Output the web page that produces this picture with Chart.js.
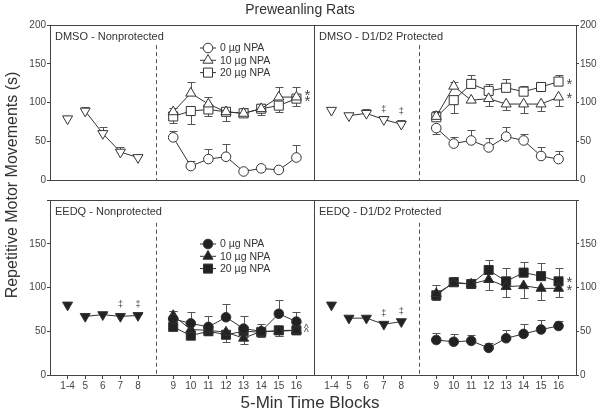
<!DOCTYPE html>
<html>
<head>
<meta charset="utf-8">
<title>Preweanling Rats</title>
<script src="https://cdn.jsdelivr.net/npm/chart.js@4.4.1/dist/chart.umd.min.js"></script>
<style>
  body { margin: 0; background: #fff; }
  #wrap { position: relative; width: 600px; height: 416px; overflow: hidden;
          font-family: "Liberation Sans", Arial, sans-serif; color: #333; }
  #wrap canvas { position: absolute; left: 0; top: 0; }
  .txt { position: absolute; white-space: nowrap; text-align: center; }
  #ttl { left: 0; top: 0; width: 600px; line-height: 18px; font-size: 14px; }
  #xttl { left: 10px; top: 393px; width: 600px; line-height: 20px; font-size: 17px; }
  #yttl { left: -138px; top: 175px; width: 300px; line-height: 20px; font-size: 16px; transform: rotate(-90deg); }
</style>
</head>
<body>
<div id="wrap">
  <canvas id="c1" width="600" height="416"></canvas>
  <canvas id="c2" width="600" height="416"></canvas>
  <canvas id="c3" width="600" height="416"></canvas>
  <canvas id="c4" width="600" height="416"></canvas>
  <div class="txt" id="ttl">Preweanling Rats</div>
  <div class="txt" id="xttl">5-Min Time Blocks</div>
  <div class="txt" id="yttl">Repetitive Motor Movements (s)</div>
</div>
<script>
// time blocks: 1-4..8 before injection, 9..16 after
var preLabels = ['1-4', '5', '6', '7', '8'];
var postLabels = ['9', '10', '11', '12', '13', '14', '15', '16'];
var doseLabels = ['0 \u00b5g NPA', '10 \u00b5g NPA', '20 \u00b5g NPA'];
var panelTitles = ['DMSO - Nonprotected', 'DMSO - D1/D2 Protected', 'EEDQ - Nonprotected', 'EEDQ - D1/D2 Protected'];

// errors: SEM, sign = side of the bar drawn (+ up, - down)
// DMSO - Nonprotected
var dnPre = [79, 89, 60, 36, 29];
var dnPreErr = [0, 5, 8, 7, 3];
var dn0 = [55, 18, 27, 30, 11, 15, 13, 29];
var dn0Err = [8, 7, 13, 16, 3, 3, 3, 16];
var dn10 = [88, 112, 98, 88, 86, 92, 107, 107];
var dn10Err = [5, 14, 9, 3, 7, 6, 13, 13];
var dn20 = [82, 89, 91, 88, 86, 92, 96, 105];
var dn20Err = [-9, -17, -8, -12, -4, -8, -8, -10];

// DMSO - D1/D2 Protected
var ddPre = [90, 83, 86, 78, 72];
var ddPreErr = [0, 3, 5, 4, 6];
var dd0 = [67, 47, 51, 42, 56, 51, 31, 27];
var dd0Err = [-7, 9, 13, 12, 13, 9, 12, 10];
var dd10 = [82, 121, 103, 105, 98, 98, 98, 107];
var dd10Err = [0, 6, 0, -9, -8, -11, -9, -11];
var dd20 = [81, 103, 124, 115, 119, 114, 120, 127];
var dd20Err = [8, -16, 12, 9, 11, 7, 6, 9];

// EEDQ - Nonprotected
var enPre = [80, 67, 69, 67, 68];
var enPreErr = [0, 2, 2, 2, 2];
var en0 = [64, 59, 55, 66, 53, 50, 70, 61];
var en0Err = [9, 13, 12, 15, 14, 8, 16, 11];
var en10 = [68, 52, 51, 49, 42, 50, 50, 51];
var en10Err = [5, -4, -4, -5, -6, -4, -5, -4];
var en20 = [55, 45, 50, 46, 50, 49, 51, 51];
var en20Err = [-4, -4, -4, -8, -7, -6, -6, -4];

// EEDQ - D1/D2 Protected
var edPre = [80, 65, 65, 58, 61];
var edPreErr = [0, 3, 3, 0, 3];
var ed0 = [40, 38, 39, 31, 42, 47, 52, 56];
var ed0Err = [8, 9, 7, 6, 9, 11, 11, 6];
var ed10 = [93, 105, 104, 109, 101, 102, 99, 99];
var ed10Err = [-7, -3, -4, -12, -12, -14, -13, -10];
var ed20 = [91, 106, 104, 120, 107, 117, 113, 107];
var ed20Err = [12, 6, 6, 11, 15, 12, 15, 15];

Chart.defaults.font.family = '"Liberation Sans", Arial, sans-serif';

// broken axis: empty slot, pre blocks, empty slot, post blocks, empty slot
var axisLabels = [''].concat(preLabels, [''], postLabels, ['']);

function slots(pre, post) {
  var a = pre || preLabels.map(function () { return null; });
  var b = post || postLabels.map(function () { return null; });
  return [null].concat(a, [null], b, [null]);
}

function drawMark(ctx, style, x, y, r, fill) {
  ctx.beginPath();
  if (style === 'circle') {
    ctx.arc(x, y, r, 0, Math.PI * 2);
  } else if (style === 'rect') {
    var h = r * Math.SQRT1_2;
    ctx.rect(x - h, y - h, 2 * h, 2 * h);
  } else {
    ctx.moveTo(x, y - r);
    ctx.lineTo(x + r * 0.866, y + r / 2);
    ctx.lineTo(x - r * 0.866, y + r / 2);
    ctx.closePath();
  }
  ctx.fillStyle = fill;
  ctx.fill();
  ctx.stroke();
}

var deco = {
  id: 'deco',
  beforeDatasetsDraw: function (chart, args, o) {
    var ctx = chart.ctx, a = chart.chartArea, x = chart.scales.x, y = chart.scales.y;
    ctx.save();
    ctx.lineWidth = 1;
    // dashed line between blocks 8 and 9
    var xd = Math.round(x.getPixelForValue(preLabels.length + 1)) + 0.5;
    ctx.strokeStyle = '#555';
    ctx.setLineDash([4, 3]);
    ctx.beginPath();
    ctx.moveTo(xd, y.getPixelForValue(174));
    ctx.lineTo(xd, a.bottom);
    ctx.stroke();
    ctx.setLineDash([]);
    // error bars
    ctx.strokeStyle = '#555';
    chart.data.datasets.forEach(function (ds, i) {
      var meta = chart.getDatasetMeta(i);
      ds.errs.forEach(function (e, j) {
        var v = ds.data[j];
        if (v == null || !e) return;
        var px = Math.round(meta.data[j].x) + 0.5;
        var py = y.getPixelForValue(v);
        var pe = Math.round(y.getPixelForValue(v + e)) + 0.5;
        ctx.beginPath();
        ctx.moveTo(px, py);
        ctx.lineTo(px, pe);
        ctx.moveTo(px - 4, pe);
        ctx.lineTo(px + 4, pe);
        ctx.stroke();
      });
    });
    ctx.restore();
  },
  afterDatasetsDraw: function (chart, args, o) {
    var ctx = chart.ctx, a = chart.chartArea, x = chart.scales.x, y = chart.scales.y;
    ctx.save();
    // frame
    ctx.strokeStyle = '#444';
    ctx.lineWidth = 1;
    ctx.strokeRect(Math.round(a.left) + 0.5, Math.round(a.top) + 0.5, Math.round(a.right - a.left), Math.round(a.bottom - a.top));
    // panel title
    ctx.fillStyle = '#333';
    ctx.font = '11px "Liberation Sans", Arial, sans-serif';
    ctx.textBaseline = 'middle';
    ctx.textAlign = 'left';
    ctx.fillText(o.title, a.left + 5, a.top + 12);
    // legend
    if (o.legendTop != null) {
      for (var k = 0; k < 3; k++) {
        var ds = chart.data.datasets[k + 1];
        var ly = a.top + o.legendTop + k * 12.3;
        var lx = a.left + 158;
        ctx.strokeStyle = '#333';
        ctx.beginPath();
        ctx.moveTo(lx - 8, ly);
        ctx.lineTo(lx + 8, ly);
        ctx.stroke();
        drawMark(ctx, ds.pointStyle, lx, ly, ds.pointRadius, ds.pointBackgroundColor);
        ctx.fillStyle = '#333';
        ctx.font = '10.5px "Liberation Sans", Arial, sans-serif';
        ctx.fillText(doseLabels[k], lx + 12, ly + 0.5);
      }
    }
    // significance marks
    ctx.fillStyle = '#444';
    ctx.textAlign = 'center';
    (o.notes || []).forEach(function (n) {
      var px = x.getPixelForValue(axisLabels.indexOf(n.at));
      var py = y.getPixelForValue(n.v);
      if (n.t === '*') {
        ctx.font = '15px "Liberation Sans", Arial, sans-serif';
        ctx.fillText('*', px + 11, py + 3);
      } else if (n.t === '^') {
        ctx.font = '10px "Liberation Sans", Arial, sans-serif';
        ctx.fillText('^', px + 10, py + 2);
      } else {
        ctx.font = '9px "Liberation Sans", Arial, sans-serif';
        ctx.fillText(n.t, px, py);
      }
    });
    ctx.restore();
  }
};

function series(data, errs, style, r, fill, rot) {
  return {
    data: data, errs: errs,
    borderColor: '#333', borderWidth: 1,
    pointStyle: style, pointRadius: r, pointRotation: rot || 0,
    pointBackgroundColor: fill, pointBorderColor: '#333', pointBorderWidth: 1,
    tension: 0, spanGaps: false
  };
}

function makePanel(p) {
  var fill = p.filled ? '#222' : '#fff';
  var pre = series(slots(p.pre, null), slots(p.preErr, null), 'triangle', 5.8, fill, 180);
  pre.segment = { borderColor: function (c) { return c.p0DataIndex === 1 ? 'rgba(0,0,0,0)' : undefined; } };
  var ds = [
    pre,
    series(slots(null, p.s[0]), slots(null, p.e[0]), 'circle', 4.8, fill),
    series(slots(null, p.s[1]), slots(null, p.e[1]), 'triangle', 5.8, fill),
    series(slots(null, p.s[2]), slots(null, p.e[2]), 'rect', 6.4, fill)
  ];
  var tickFont = { size: 10 };
  new Chart(document.getElementById(p.id), {
    type: 'line',
    data: { labels: axisLabels, datasets: ds },
    options: {
      responsive: false,
      animation: false,
      devicePixelRatio: 1,
      layout: {
        padding: {
          left: p.col === 0 ? 26 : 314,
          right: p.col === 0 ? 286 : 0,
          top: p.row === 0 ? 25 : 200,
          bottom: p.row === 0 ? 216 : 21
        }
      },
      plugins: {
        legend: { display: false },
        tooltip: { enabled: false },
        deco: { title: p.title, legendTop: p.legendTop, notes: p.notes }
      },
      scales: {
        x: {
          display: p.row === 1,
          offset: false,
          border: { display: false },
          grid: {
            drawOnChartArea: false, tickLength: 4,
            tickColor: function (c) { return c.tick && c.tick.label ? '#444' : 'rgba(0,0,0,0)'; }
          },
          ticks: { autoSkip: false, maxRotation: 0, padding: 1, color: '#444', font: tickFont },
          afterFit: function (s) { s.height = 20; }
        },
        y: {
          position: p.col === 0 ? 'left' : 'right',
          min: 0, max: 200,
          border: { display: false },
          grid: { drawOnChartArea: false, tickLength: 3, tickColor: '#444' },
          ticks: {
            stepSize: 50, padding: 1, color: '#444', font: tickFont,
            callback: function (v) { return (p.row === 1 && v === 200) ? '' : v; }
          },
          afterFit: function (s) { s.width = 24; }
        }
      }
    },
    plugins: [deco]
  });
}

makePanel({ id: 'c1', row: 0, col: 0, title: panelTitles[0], filled: false,
  pre: dnPre, preErr: dnPreErr, s: [dn0, dn10, dn20], e: [dn0Err, dn10Err, dn20Err], legendTop: 23,
  notes: [{ at: '16', v: 112, t: '*' }, { at: '16', v: 104.5, t: '*' }] });
makePanel({ id: 'c2', row: 0, col: 1, title: panelTitles[1], filled: false,
  pre: ddPre, preErr: ddPreErr, s: [dd0, dd10, dd20], e: [dd0Err, dd10Err, dd20Err],
  notes: [{ at: '16', v: 127, t: '*' }, { at: '16', v: 108.6, t: '*' },
          { at: '7', v: 91.4, t: '\u2021' }, { at: '8', v: 88.3, t: '\u2021' }] });
makePanel({ id: 'c3', row: 1, col: 0, title: panelTitles[2], filled: true,
  pre: enPre, preErr: enPreErr, s: [en0, en10, en20], e: [en0Err, en10Err, en20Err], legendTop: 44,
  notes: [{ at: '16', v: 55, t: '^' }, { at: '16', v: 49.5, t: '^' },
          { at: '7', v: 80.8, t: '\u2021' }, { at: '8', v: 80.8, t: '\u2021' }] });
makePanel({ id: 'c4', row: 1, col: 1, title: panelTitles[3], filled: true,
  pre: edPre, preErr: edPreErr, s: [ed0, ed10, ed20], e: [ed0Err, ed10Err, ed20Err],
  notes: [{ at: '16', v: 108.6, t: '*' }, { at: '16', v: 99.8, t: '*' },
          { at: '7', v: 70.5, t: '\u2021' }, { at: '8', v: 72.4, t: '\u2021' }] });
</script>
</body>
</html>
